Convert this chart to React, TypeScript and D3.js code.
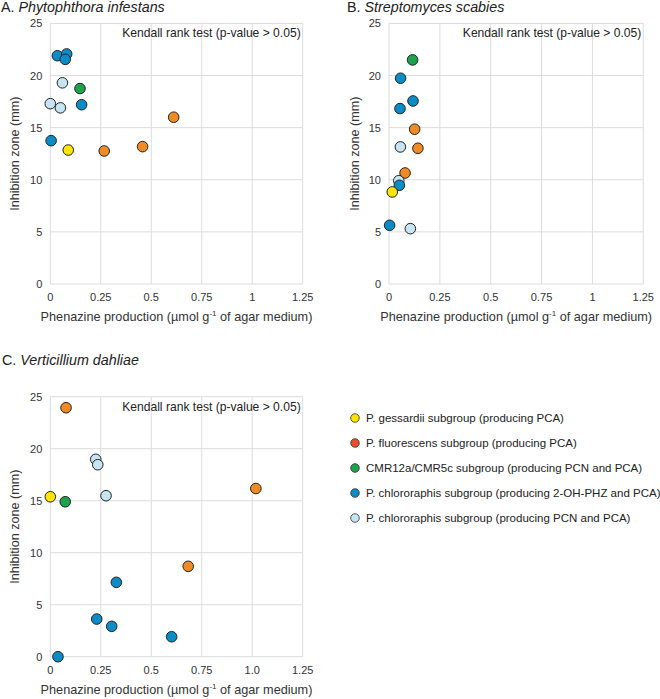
import React from "react";
import * as d3 from "d3";

const groupNames = [
  "P. gessardii subgroup (producing PCA)",
  "P. fluorescens subgroup (producing PCA)",
  "CMR12a/CMR5c subgroup (producing PCN and PCA)",
  "P. chlororaphis subgroup (producing 2-OH-PHZ and PCA)",
  "P. chlororaphis subgroup (producing PCN and PCA)",
];
const plotColors = ["#FFE500", "#F08A24", "#1DA34B", "#0B8CC6", "#C6E4F1"];
const legendColors = ["#FFE500", "#E9502A", "#1DA34B", "#0B8CC6", "#C6E4F1"];

// Panel A: Phytophthora infestans
const aX = [0.035, 0.081, 0.074, 0.06, 0.147, 0.0, 0.05, 0.155, 0.611, 0.004, 0.089, 0.267, 0.457];
const aY = [21.9, 22.07, 21.55, 19.3, 18.75, 17.3, 16.9, 17.2, 16.0, 13.75, 12.85, 12.76, 13.18];
const aG = [3, 3, 3, 4, 2, 4, 4, 3, 1, 3, 0, 1, 1];

// Panel B: Streptomyces scabies
const bX = [0.116, 0.057, 0.118, 0.054, 0.126, 0.056, 0.142, 0.079, 0.048, 0.051, 0.016, 0.003, 0.105];
const bY = [21.5, 19.74, 17.56, 16.83, 14.85, 13.15, 13.02, 10.65, 9.91, 9.47, 8.83, 5.63, 5.31];
const bG = [2, 3, 3, 3, 1, 4, 1, 1, 4, 3, 0, 3, 4];

// Panel C: Verticillium dahliae
const cX = [0.078, 0.225, 0.235, 0.276, 0.0, 0.074, 1.018, 0.683, 0.327, 0.23, 0.304, 0.601, 0.038];
const cY = [23.94, 18.98, 18.46, 15.48, 15.38, 14.9, 16.17, 8.69, 7.15, 3.62, 2.92, 1.92, 0.0];
const cG = [1, 4, 4, 4, 0, 2, 1, 1, 3, 3, 3, 3, 3];

const xTicks = [0, 0.25, 0.5, 0.75, 1, 1.25];
const xTickLabelsAB = ["0", "0.25", "0.5", "0.75", "1", "1.25"];
const xTickLabelsC = ["0", "0.25", "0.5", "0.75", "1.0", "1.25"];
const yTicks = [0, 5, 10, 15, 20, 25];

const FONT = "'Liberation Sans', Arial, sans-serif";

type PanelProps = {
  left: number;
  right: number;
  top: number;
  bottom: number;
  xs: number[];
  ys: number[];
  gs: number[];
  letter: string;
  species: string;
  titleX: number;
  titleY: number;
  xLabels: string[];
  yLabelX: number;
};

function Panel(p: PanelProps) {
  const x = d3.scaleLinear().domain([0, 1.25]).range([p.left, p.right]);
  const y = d3.scaleLinear().domain([0, 25]).range([p.bottom, p.top]);
  const midY = (p.top + p.bottom) / 2;
  return (
    <g>
      <text x={p.titleX} y={p.titleY} fontSize={14.3} fontFamily={FONT} fill="#222">
        {p.letter + " "}
        <tspan fontStyle="italic">{p.species}</tspan>
      </text>
      {yTicks.map((t) => (
        <line key={"h" + t} x1={p.left} x2={p.right} y1={y(t)} y2={y(t)} stroke="#dcdcdc" strokeWidth={1} />
      ))}
      {xTicks.map((t) => (
        <line key={"v" + t} x1={x(t)} x2={x(t)} y1={p.top} y2={p.bottom} stroke="#dcdcdc" strokeWidth={1} />
      ))}
      {yTicks.map((t) => (
        <text key={"yl" + t} x={p.left - 8} y={y(t) + 4} fontSize={11} textAnchor="end" fontFamily={FONT} fill="#333">
          {t}
        </text>
      ))}
      {xTicks.map((t, i) => (
        <text key={"xl" + t} x={x(t)} y={p.bottom + 17} fontSize={11} textAnchor="middle" fontFamily={FONT} fill="#333">
          {p.xLabels[i]}
        </text>
      ))}
      <text
        transform={`translate(${p.yLabelX},${midY}) rotate(-90)`}
        fontSize={12.6}
        textAnchor="middle"
        fontFamily={FONT}
        fill="#333"
        dy="0.35em"
      >
        Inhibition zone (mm)
      </text>
      <text x={(p.left + p.right) / 2} y={p.bottom + 37} fontSize={12.7} textAnchor="middle" fontFamily={FONT} fill="#333">
        Phenazine production (µmol g
        <tspan fontSize={8} dy={-5}>-1</tspan>
        <tspan dy={5}> of agar medium)</tspan>
      </text>
      <text x={p.right - 2} y={p.top + 14} fontSize={12.1} textAnchor="end" fontFamily={FONT} fill="#222">
        Kendall rank test (p-value &gt; 0.05)
      </text>
      {p.xs.map((v, i) => (
        <circle key={"pt" + i} cx={x(v)} cy={y(p.ys[i])} r={5.3} fill={plotColors[p.gs[i]]} stroke="#222" strokeWidth={1} />
      ))}
    </g>
  );
}

export default function App() {
  return (
    <svg width={660} height={699} style={{ position: "absolute", left: 0, top: 0, background: "#fff" }}>
      <rect x={0} y={0} width={660} height={699} fill="#fff" />
      <Panel left={50.3} right={302.7} top={23.4} bottom={284} xs={aX} ys={aY} gs={aG} letter="A." species="Phytophthora infestans" titleX={1} titleY={12} xLabels={xTickLabelsAB} yLabelX={15} />
      <Panel left={389} right={643.3} top={23.4} bottom={284} xs={bX} ys={bY} gs={bG} letter="B." species="Streptomyces scabies" titleX={347} titleY={12} xLabels={xTickLabelsAB} yLabelX={355} />
      <Panel left={50.3} right={302.7} top={396.7} bottom={656.7} xs={cX} ys={cY} gs={cG} letter="C." species="Verticillium dahliae" titleX={2} titleY={365} xLabels={xTickLabelsC} yLabelX={15} />
      {groupNames.map((name, i) => (
        <g key={"lg" + i}>
          <circle cx={355} cy={418 + i * 25} r={4.3} fill={legendColors[i]} stroke="#333" strokeWidth={0.8} />
          <text x={366} y={418 + i * 25 + 4} fontSize={11.5} fontFamily={FONT} fill="#222">
            {name}
          </text>
        </g>
      ))}
    </svg>
  );
}
